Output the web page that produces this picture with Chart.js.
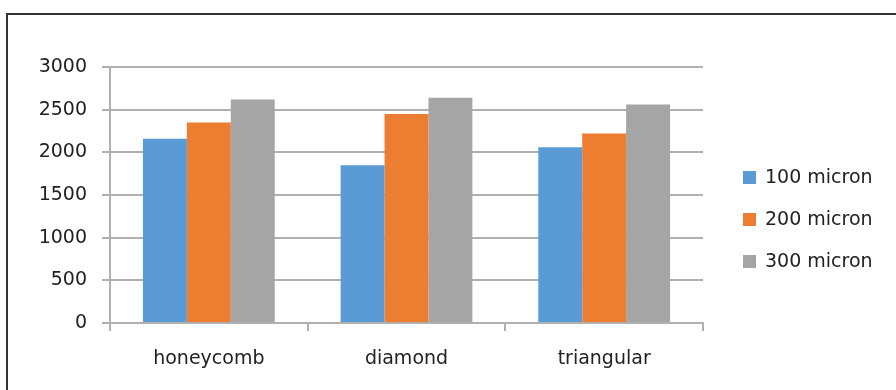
<!DOCTYPE html>
<html>
<head>
<meta charset="utf-8">
<script src="https://cdn.jsdelivr.net/npm/chart.js@4/dist/chart.umd.min.js"></script>
<style>
    body { margin: 0; background: #fff; overflow: hidden; }
    #wrap { position: relative; width: 896px; height: 390px; }
    #frame {
        position: absolute; left: 6px; top: 13px;
        width: 1000px; height: 500px;
        border: 2px solid #333; box-sizing: border-box;
    }
    canvas { position: absolute; left: 0; top: 0; }
</style>
</head>
<body>
<div id="wrap">
    <div id="frame"></div>
    <canvas id="barChart" width="896" height="390"></canvas>
</div>
<script>
// 数据
const categories = ['honeycomb', 'diamond', 'triangular'];
const seriesNames = ['100 micron', '200 micron', '300 micron'];
const micron100 = [2160, 1850, 2060];
const micron200 = [2350, 2450, 2220];
const micron300 = [2620, 2640, 2560];
const yTicks = [0, 500, 1000, 1500, 2000, 2500, 3000];

const COLORS = ['#5b9bd5', '#ed7d31', '#a5a5a5'];
const GRID = '#b0b0b0';
const FONT = { family: 'DejaVu Sans', size: 19 };
const TEXT = '#222222';

// 右侧图例（手动绘制，位置仿照原图）
const sideLegend = {
    id: 'sideLegend',
    afterDraw(chart) {
        const ctx = chart.ctx;
        ctx.save();
        ctx.font = `${FONT.size}px ${FONT.family}`;
        ctx.textBaseline = 'middle';
        ctx.textAlign = 'left';
        chart.data.datasets.forEach((ds, i) => {
            const y = 177.5 + i * 42;
            ctx.fillStyle = ds.backgroundColor;
            ctx.fillRect(743, y - 6.5, 13, 13);
            ctx.fillStyle = TEXT;
            ctx.fillText(ds.label, 765, y + 1);
        });
        ctx.restore();
    }
};

const seriesValues = [micron100, micron200, micron300];

new Chart(document.getElementById('barChart'), {
    type: 'bar',
    data: {
        labels: categories,
        datasets: seriesNames.map((name, i) => ({
            label: name,
            data: seriesValues[i],
            backgroundColor: COLORS[i],
            borderWidth: 0,
            categoryPercentage: 3 / 4.5,
            barPercentage: 1
        }))
    },
    options: {
        responsive: false,
        animation: false,
        layout: { padding: { left: 0, right: 193, top: 67, bottom: 0 } },
        plugins: {
            legend: { display: false },
            tooltip: { enabled: false }
        },
        scales: {
            x: {
                afterFit(scale) { scale.height = 67; },
                grid: { drawOnChartArea: false, tickLength: 8, color: GRID, lineWidth: 2 },
                border: { color: GRID, width: 2 },
                ticks: { color: TEXT, font: FONT, padding: 17 }
            },
            y: {
                min: 0,
                max: 3000,
                afterFit(scale) { scale.width = 110; },
                afterBuildTicks(scale) { scale.ticks = yTicks.map(v => ({ value: v })); },
                grid: { tickLength: 8, color: GRID, lineWidth: 2 },
                border: { color: GRID, width: 2 },
                ticks: { color: TEXT, font: FONT, padding: 15, callback: v => String(v) }
            }
        }
    },
    plugins: [sideLegend]
});
</script>
</body>
</html>
